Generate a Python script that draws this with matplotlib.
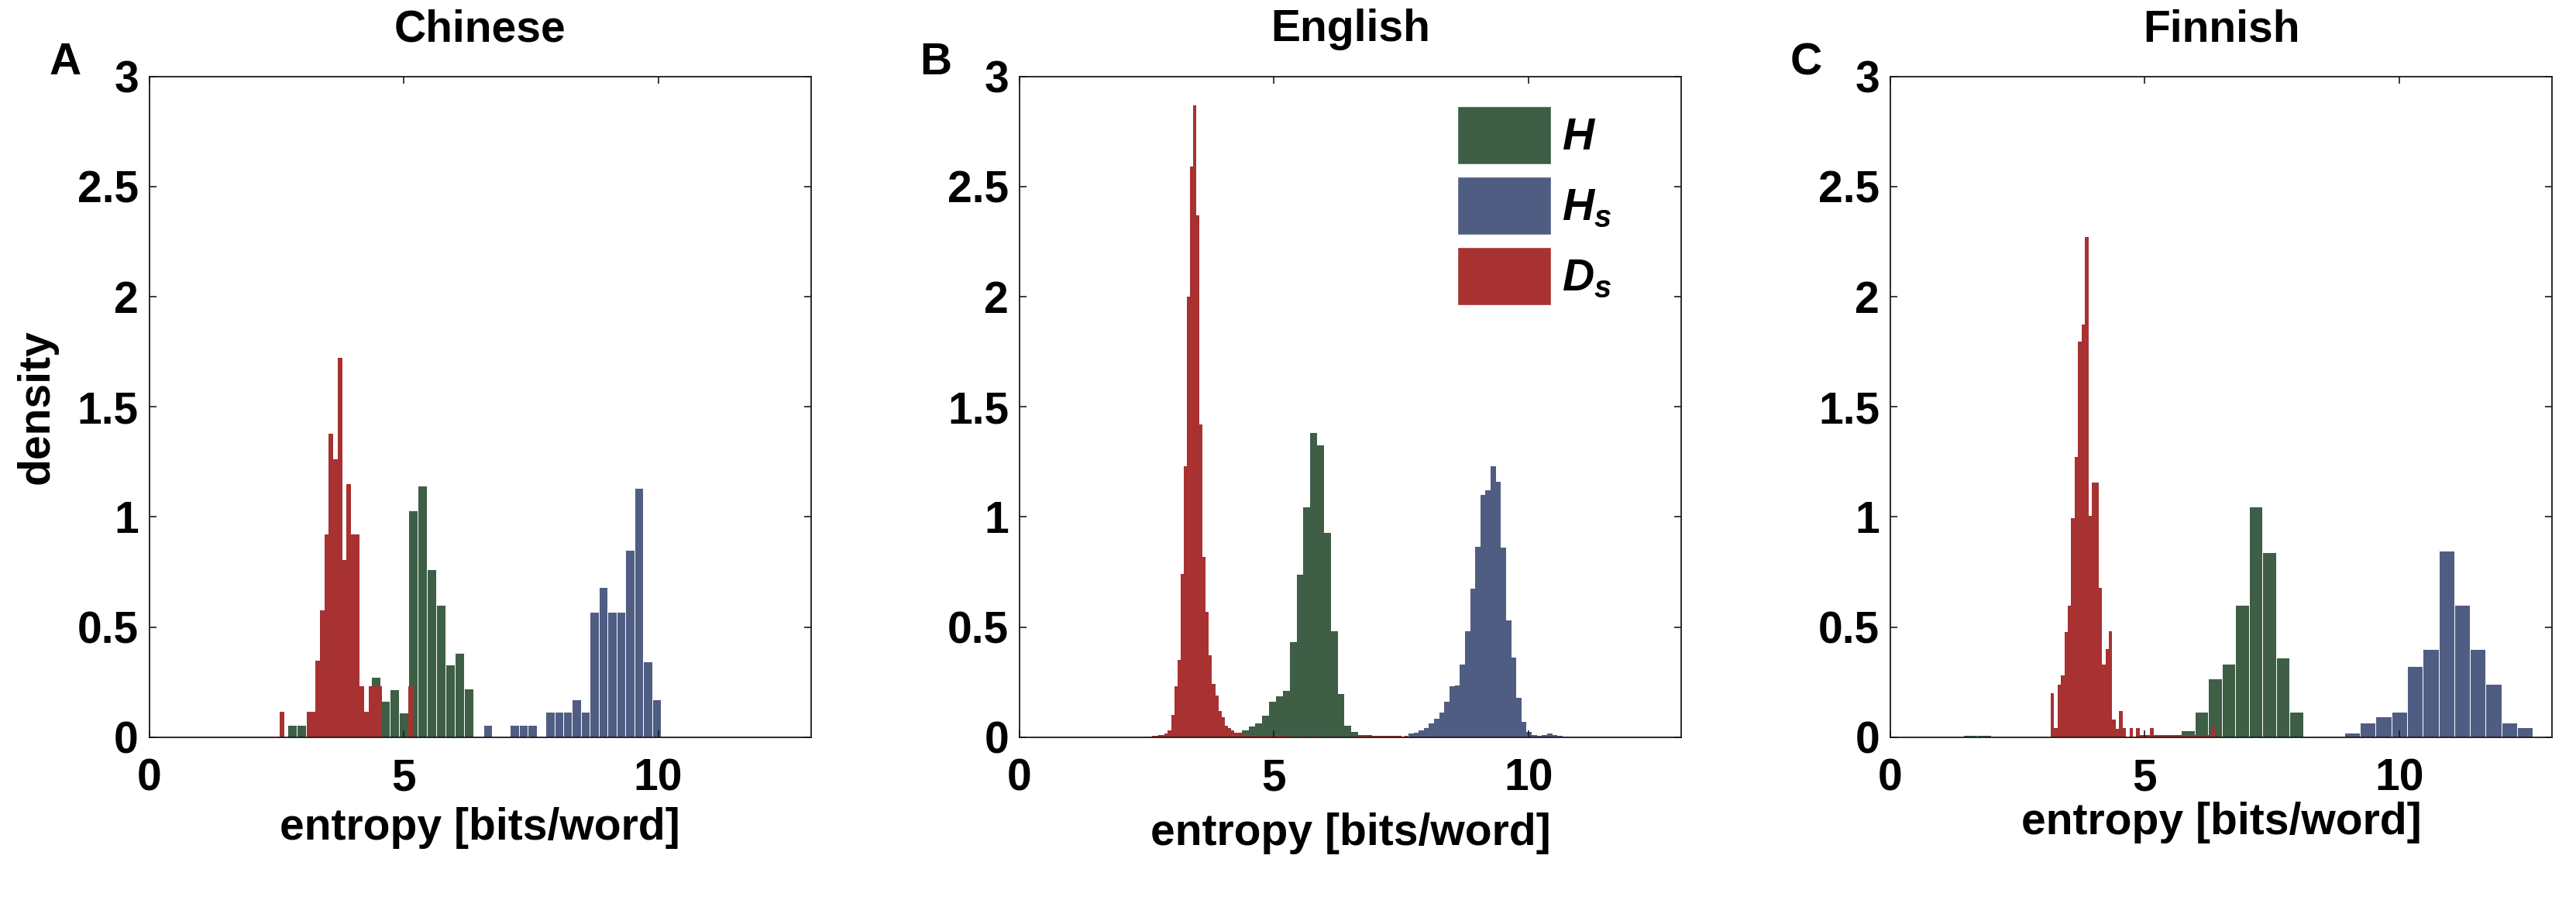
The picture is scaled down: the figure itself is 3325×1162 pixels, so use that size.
import numpy as np
import matplotlib
matplotlib.use('Agg')
import matplotlib.pyplot as plt
from matplotlib.patches import Patch

plt.rcParams['font.family'] = ['Liberation Sans', 'DejaVu Sans']
plt.rcParams['font.weight'] = 'bold'
plt.rcParams['mathtext.fontset'] = 'custom'
plt.rcParams['mathtext.it'] = 'Liberation Sans:bold:italic'
plt.rcParams['mathtext.rm'] = 'Liberation Sans:bold'
plt.rcParams['mathtext.bf'] = 'Liberation Sans:bold'

# --- data: histogram densities (bin start, bin width, heights) ---
languages = ['Chinese', 'English', 'Finnish']
panel_letters = ['A', 'B', 'C']
series_labels = [r'$H$', r'$H_s$', r'$D_s$']

# Chinese
cn_H_start, cn_H_width = 2.707, 0.183
cn_H = [0.055, 0.055, 0, 0, 0, 0, 0, 0, 0, 0.272, 0.165, 0.218, 0.111,
        1.030, 1.141, 0.763, 0.600, 0.328, 0.383, 0.221]
cn_Hs_start, cn_Hs_width = 6.563, 0.1745
cn_Hs = [0.055, 0, 0, 0.055, 0.055, 0.055, 0, 0.116, 0.116, 0.116, 0.172,
         0.116, 0.567, 0.682, 0.567, 0.567, 0.851, 1.133, 0.343, 0.172]
cn_Ds_start, cn_Ds_width = 2.568, 0.0871
cn_Ds = [0.116, 0, 0, 0, 0, 0, 0.116, 0.116, 0.346, 0.575, 0.92, 1.377,
         1.263, 1.721, 0.805, 1.149, 0.92, 0.92, 0.23, 0.116, 0.23, 0.23,
         0.23, 0, 0, 0, 0, 0, 0, 0.23]

# English
en_H_start, en_H_width = 4.23, 0.1347
en_H = [0.02, 0.03, 0.047, 0.063, 0.096, 0.16, 0.186, 0.209, 0.43, 0.736,
        1.045, 1.38, 1.326, 0.926, 0.482, 0.195, 0.052, 0.025, 0.011, 0.008,
        0.006, 0.004, 0.003]
en_Hs_start, en_Hs_width = 7.64, 0.101
en_Hs = [0.015, 0.02, 0.03, 0.04, 0.063, 0.085, 0.11, 0.16, 0.23, 0.235,
         0.33, 0.48, 0.675, 0.864, 1.10, 1.12, 1.23, 1.16, 0.86, 0.53,
         0.36, 0.18, 0.07, 0.025, 0.01, 0.005, 0.01, 0.015, 0.01, 0.005, 0.003]
en_Ds_start, en_Ds_width = 2.48, 0.062
en_Ds = [0.003, 0.004, 0.005, 0.006, 0.008,
         0.01, 0.015, 0.03, 0.10, 0.23, 0.35, 0.74, 1.23, 2.00, 2.59,
         2.87, 2.37, 1.42, 0.82, 0.57, 0.37, 0.24, 0.19, 0.12, 0.09,
         0.05, 0.04, 0.03, 0.02, 0.02, 0.015, 0.01, 0.01, 0.008,
         0.008, 0.007, 0.007, 0.006, 0.006, 0.006, 0.005, 0.006, 0.005, 0.005,
         0.005, 0.004, 0.005, 0.004, 0.004, 0.005, 0.004, 0.004, 0.004, 0.005,
         0.004, 0.004, 0.003, 0.004, 0.004, 0.003, 0.004, 0.004, 0.003, 0.004,
         0.004, 0.004, 0.005, 0.004, 0.005, 0.005, 0.004, 0.005, 0.006, 0.005,
         0.005, 0.006, 0.005, 0.005, 0.006, 0.005, 0.005, 0.004, 0.005, 0.004,
         0.004, 0.004, 0.003, 0.004, 0.003, 0.003, 0.004, 0.003, 0.003, 0.003,
         0.003, 0.003, 0.002, 0.003, 0.002, 0.002]

# Finnish
fi_H_start, fi_H_width = 1.438, 0.267
fi_H = [0.011, 0.011, 0, 0, 0, 0, 0, 0, 0, 0, 0, 0, 0, 0, 0, 0.011, 0.031,
        0.115, 0.265, 0.334, 0.601, 1.046, 0.838, 0.36, 0.115]
fi_Hs_start, fi_Hs_width = 4.90, 0.309
fi_Hs = [0.011, 0.008, 0, 0, 0, 0, 0, 0, 0, 0, 0, 0, 0.003, 0.02, 0.067,
         0.093, 0.115, 0.323, 0.401, 0.847, 0.601, 0.401, 0.241, 0.067, 0.043]
fi_Ds_start, fi_Ds_width = 3.148, 0.0674
fi_Ds = [0.20, 0.04, 0.237, 0.282, 0.478, 0.598, 0.994, 1.272, 1.796, 1.873,
         2.271, 1.005, 1.155, 1.155, 0.678, 0.33, 0.40, 0.48, 0.08, 0.036,
         0.118, 0.04, 0.0, 0.04, 0.0, 0.04, 0.008, 0.01, 0.008, 0.04,
         0.008, 0.008, 0.01, 0.008, 0.008, 0.01, 0.008, 0.008, 0.008, 0.01,
         0.008, 0.008, 0.01, 0.008, 0.008, 0.008, 0.008, 0.04]

panels = [
    [(cn_H_start, cn_H_width, cn_H), (cn_Hs_start, cn_Hs_width, cn_Hs), (cn_Ds_start, cn_Ds_width, cn_Ds)],
    [(en_H_start, en_H_width, en_H), (en_Hs_start, en_Hs_width, en_Hs), (en_Ds_start, en_Ds_width, en_Ds)],
    [(fi_H_start, fi_H_width, fi_H), (fi_Hs_start, fi_Hs_width, fi_Hs), (fi_Ds_start, fi_Ds_width, fi_Ds)],
]

colors = ['#3e5e46', '#505d83', '#a83131']
# white separator width per panel for (H, Hs, Ds)
edge_lw = [(0.7, 0.7, 0.0), (0.0, 0.0, 0.0), (0.7, 0.7, 0.0)]
xlabel_pad = [7, 12, 2]

yticks = [0, 0.5, 1, 1.5, 2, 2.5, 3]
ytick_labels = ['0', '0.5', '1', '1.5', '2', '2.5', '3']
xticks = [0, 5, 10]

W, H = 3325, 1162
fig = plt.figure(figsize=(W / 100, H / 100), dpi=100)
lefts = [192.7, 1316, 2440]
fs = 41

for i in range(3):
    ax = fig.add_axes([lefts[i] / W, (H - 951.7) / H, 854 / W, 853 / H])
    for (start, width, heights), col, lw in zip(panels[i], colors, edge_lw[i]):
        heights = np.asarray(heights, dtype=float)
        left = start + width * np.arange(len(heights))
        ax.bar(left, heights, width=width, align='edge', color=col,
               edgecolor='white' if lw > 0 else col, linewidth=lw)
    ax.set_xlim(0, 13)
    ax.set_ylim(0, 3)
    ax.set_xticks(xticks)
    ax.set_xticklabels([str(t) for t in xticks])
    ax.set_yticks(yticks)
    ax.set_yticklabels(ytick_labels)
    ax.tick_params(direction='in', top=True, right=True, length=6.5, width=1.2,
                   labelsize=fs, color='#1a1a1a')
    ax.tick_params(axis='x', pad=19)
    ax.tick_params(axis='y', pad=10)
    for sp in ax.spines.values():
        sp.set_linewidth(1.3)
        sp.set_color('#1a1a1a')
    ax.set_title(languages[i], fontsize=fs, fontweight='bold', pad=32.6)
    ax.set_xlabel('entropy [bits/word]', fontsize=fs, fontweight='bold',
                  labelpad=xlabel_pad[i])
    ax.text(-129 / 854, 1.003, panel_letters[i], transform=ax.transAxes,
            fontsize=fs, fontweight='bold', ha='left', va='baseline')
    if i == 0:
        ax.set_ylabel('density', fontsize=fs, fontweight='bold', labelpad=18)
    if i == 1:
        handles = [Patch(facecolor=c, edgecolor='white', linewidth=1) for c in colors]
        ax.legend(handles, series_labels, loc='upper left',
                  bbox_to_anchor=(0.6616, 0.955), frameon=False, fontsize=fs,
                  handlelength=2.12, handleheight=1.65, handletextpad=0.25,
                  labelspacing=0.28, borderpad=0, borderaxespad=0)

fig.savefig('out.png', dpi=100)
